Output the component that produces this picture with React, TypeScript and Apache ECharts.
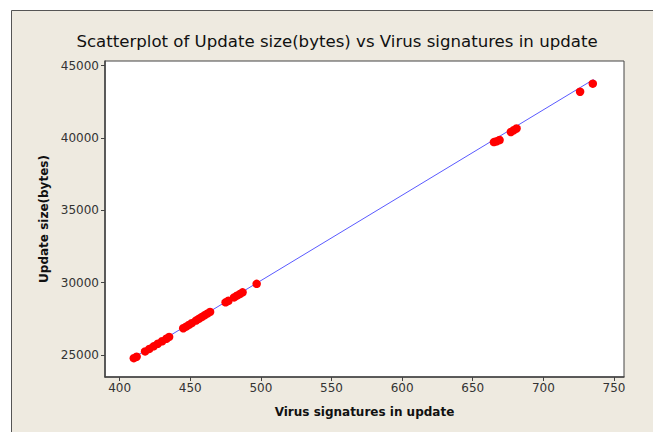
import React, { useEffect, useRef } from "react";
import * as echarts from "echarts";

const virusSignatures = [410, 412, 418, 421, 424, 427, 430, 433, 435, 445, 447, 449, 451, 454, 456, 458, 460, 462, 464, 475, 477, 481, 483, 485, 487, 497, 665, 667, 669, 677, 679, 681, 726, 735];
const updateSize = [24780, 24880, 25250, 25420, 25600, 25780, 25950, 26120, 26250, 26850, 26960, 27080, 27200, 27380, 27500, 27620, 27740, 27860, 27980, 28640, 28750, 28980, 29100, 29210, 29330, 29920, 39720, 39780, 39860, 40420, 40540, 40660, 43200, 43760];
const fitLineX = [410, 735.6];
const fitLineY = [24831, 44051];
const xTicks = [400, 450, 500, 550, 600, 650, 700, 750];
const yTicks = [25000, 30000, 35000, 40000, 45000];

export default function App() {
  const ref = useRef<HTMLDivElement>(null);
  useEffect(() => {
    const chart = echarts.init(ref.current!, null, { renderer: "svg" });
    const font = "DejaVu Sans";
    chart.setOption({
      animation: false,
      backgroundColor: "#ffffff",
      graphic: [
        {
          type: "rect",
          z: -10,
          silent: true,
          shape: { x: 11.5, y: 10.5, width: 660, height: 440 },
          style: { fill: "#eeeae0", stroke: "#555555", lineWidth: 1 },
        },
      ],
      title: {
        text: "Scatterplot of Update size(bytes) vs Virus signatures in update",
        left: 332,
        top: 28,
        textAlign: "center",
        textStyle: { fontFamily: font, fontSize: 16.6, fontWeight: "normal", color: "#111111" },
      },
      grid: {
        left: 105,
        top: 61,
        right: 29,
        bottom: 55,
        show: true,
        backgroundColor: "#ffffff",
        borderColor: "#444444",
        borderWidth: 1,
      },
      xAxis: {
        type: "value",
        min: 389.6,
        max: 757.1,
        name: "Virus signatures in update",
        nameLocation: "middle",
        nameGap: 29,
        nameTextStyle: { fontFamily: font, fontSize: 12, fontWeight: "bold", color: "#111111" },
        axisLine: { show: true, lineStyle: { color: "#444444", width: 1.5 } },
        axisTick: { show: true, length: 4, lineStyle: { color: "#444444" }, customValues: xTicks },
        axisLabel: { fontFamily: font, fontSize: 12, color: "#333333", margin: 5, customValues: xTicks },
        splitLine: { show: false },
      },
      yAxis: {
        type: "value",
        min: 23479,
        max: 45325,
        name: "Update size(bytes)",
        nameLocation: "middle",
        nameGap: 55,
        nameTextStyle: { fontFamily: font, fontSize: 12, fontWeight: "bold", color: "#111111" },
        axisLine: { show: true, lineStyle: { color: "#444444", width: 1.5 } },
        axisTick: { show: true, length: 4, lineStyle: { color: "#444444" }, customValues: yTicks },
        axisLabel: {
          fontFamily: font,
          fontSize: 12,
          color: "#333333",
          margin: 6,
          customValues: yTicks,
          formatter: (v: number) => String(v),
        },
        splitLine: { show: false },
      },
      series: [
        {
          type: "line",
          data: fitLineX.map((x, i) => [x, fitLineY[i]]),
          showSymbol: false,
          symbol: "none",
          lineStyle: { color: "#5a5aff", width: 1 },
          z: 1,
        },
        {
          type: "scatter",
          data: virusSignatures.map((x, i) => [x, updateSize[i]]),
          symbol: "circle",
          symbolSize: 8.5,
          itemStyle: { color: "#ff0000", opacity: 1 },
          z: 2,
        },
      ],
    });
    return () => chart.dispose();
  }, []);
  return (
    <div
      ref={ref}
      style={{ position: "fixed", left: 0, top: 0, width: 653, height: 432 }}
    />
  );
}
